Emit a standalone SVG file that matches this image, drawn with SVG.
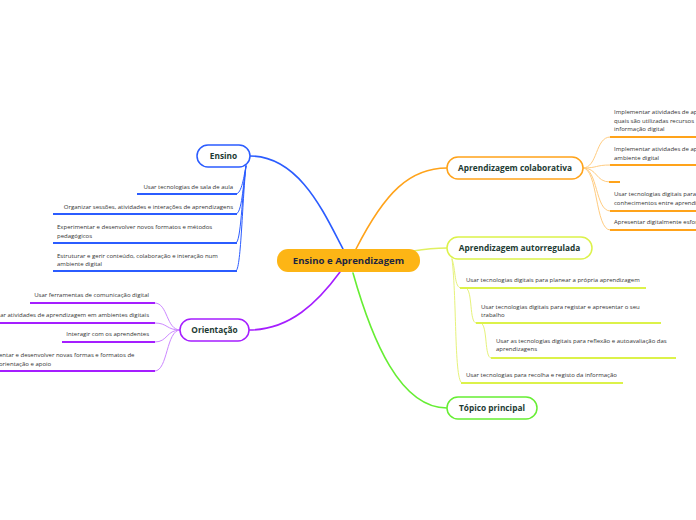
<svg xmlns="http://www.w3.org/2000/svg" width="696" height="520" viewBox="0 0 696 520">
<style>
.bg{fill:#ffffff}
.node{fill:#ffffff;stroke-width:1.5}
.nt{font-family:"Open Sans","Noto Sans",sans-serif;font-weight:bold;font-size:8.3px;fill:#1d3b33;text-anchor:middle}
.ct{font-family:"Open Sans","Noto Sans",sans-serif;font-size:6px;fill:#333333}
.end{text-anchor:end}
.c{fill:none;stroke-linecap:round}
.ul{fill:none;stroke-width:2}
</style>
<rect class="bg" x="0" y="0" width="696" height="520"/>
<g id="connectors">
  <path class="c" d="M250,156 C300,156 325,215 343,249" stroke="#2b5cff" stroke-width="1.6"/>
  <path class="c" d="M249,330 C290,330 318,302 340,272" stroke="#a51eff" stroke-width="1.6"/>
  <path class="c" d="M356,249 C385,192 410,168 447,168" stroke="#ffa31a" stroke-width="1.6"/>
  <path class="c" d="M413,251 C425,249 435,248 447,248" stroke="#e0f060" stroke-width="1.6"/>
  <path class="c" d="M353,273 C372,340 400,408 447,408" stroke="#66ee33" stroke-width="1.6"/>
  <g stroke="#2b5cff" stroke-width="1">
    <path class="c" d="M246,166 C244,175 242,194 236,194"/>
    <path class="c" d="M246,166 C243,185 242,214 236,214"/>
    <path class="c" d="M246,166 C242,195 241,243 236,243"/>
    <path class="c" d="M246,166 C242,205 241,271 236,271"/>
  </g>
  <g stroke="#cc88ff" stroke-width="1">
    <path class="c" d="M180,330 C166,330 168,303 155,303"/>
    <path class="c" d="M180,330 C166,330 168,323 155,323"/>
    <path class="c" d="M180,330 C166,330 168,342 155,342"/>
    <path class="c" d="M180,330 C166,330 168,371 155,371"/>
  </g>
  <g stroke="#ffcc80" stroke-width="1">
    <path class="c" d="M583,168 C598,168 595,137 610,137"/>
    <path class="c" d="M583,168 C598,168 595,165 610,165"/>
    <path class="c" d="M583,168 C598,168 595,182 610,182"/>
    <path class="c" d="M583,168 C598,168 595,211 610,211"/>
    <path class="c" d="M583,168 C598,168 595,230 610,230"/>
  </g>
  <g stroke="#e6f27a" stroke-width="1">
    <path class="c" d="M452,259 C456,270 454,288 461,288"/>
    <path class="c" d="M452,259 C457,300 454,383 462,383"/>
    <path class="c" d="M466,288 C473,290 469,323 476,323"/>
    <path class="c" d="M481,323 C488,325 484,358 491,358"/>
  </g>
</g>
<g id="center">
  <rect x="277" y="249" width="143" height="23" rx="11" fill="#fdb515"/>
  <text x="348.5" y="264" font-family="'Open Sans','Noto Sans',sans-serif" font-weight="bold" font-size="9.6" fill="#1c2541" text-anchor="middle">Ensino e Aprendizagem</text>
</g>
<g id="ensino">
  <rect class="node" x="197" y="145" width="53" height="22" rx="11" stroke="#2b5cff"/>
  <text class="nt" x="223.5" y="159">Ensino</text>
</g>
<g id="ensino-1">
  <text class="ct end" x="233" y="189">Usar tecnologias de sala de aula</text>
  <path class="ul" d="M137,194 H237" stroke="#2b5cff"/>
</g>
<g id="ensino-2">
  <text class="ct end" x="233" y="209">Organizar sessões, atividades e interações de aprendizagens</text>
  <path class="ul" d="M53,214 H237" stroke="#2b5cff"/>
</g>
<g id="ensino-3">
  <text class="ct" x="57" y="229">Experimentar e desenvolver novos formatos e métodos</text>
  <text class="ct" x="57" y="238">pedagógicos</text>
  <path class="ul" d="M53,243 H237" stroke="#2b5cff"/>
</g>
<g id="ensino-4">
  <text class="ct" x="57" y="258">Estruturar e gerir conteúdo, colaboração e interação num</text>
  <text class="ct" x="57" y="266">ambiente digital</text>
  <path class="ul" d="M53,271 H237" stroke="#2b5cff"/>
</g>
<g id="orientacao">
  <rect class="node" x="180" y="319" width="69" height="22" rx="11" stroke="#a51eff"/>
  <text class="nt" x="214.5" y="333">Orientação</text>
</g>
<g id="orientacao-1">
  <text class="ct end" x="149" y="297">Usar ferramentas de comunicação digital</text>
  <path class="ul" d="M30,303 H155" stroke="#a51eff"/>
</g>
<g id="orientacao-2">
  <text class="ct end" x="149" y="317">ar atividades de aprendizagem em ambientes digitais</text>
  <path class="ul" d="M0,323 H155" stroke="#a51eff"/>
</g>
<g id="orientacao-3">
  <text class="ct end" x="149" y="336">Interagir com os aprendentes</text>
  <path class="ul" d="M62,342 H155" stroke="#a51eff"/>
</g>
<g id="orientacao-4">
  <text class="ct" x="-1" y="357">entar e desenvolver novas formas e formatos de</text>
  <text class="ct" x="-1" y="366">orientação e apoio</text>
  <path class="ul" d="M0,371 H155" stroke="#a51eff"/>
</g>
<g id="colaborativa">
  <rect class="node" x="447" y="157" width="136" height="22" rx="11" stroke="#ffa31a"/>
  <text class="nt" x="515" y="171">Aprendizagem colaborativa</text>
</g>
<g id="colaborativa-1">
  <text class="ct" x="614" y="114">Implementar atividades de ap</text>
  <text class="ct" x="614" y="123">quais são utilizadas recursos</text>
  <text class="ct" x="614" y="131">informação digital</text>
  <path class="ul" d="M610,137 H696" stroke="#ffa31a"/>
</g>
<g id="colaborativa-2">
  <text class="ct" x="614" y="151">Implementar atividades de ap</text>
  <text class="ct" x="614" y="160">ambiente digital</text>
  <path class="ul" d="M610,165 H696" stroke="#ffa31a"/>
</g>
<g id="colaborativa-3">
  <path class="ul" d="M609,182 H620" stroke="#ffa31a"/>
</g>
<g id="colaborativa-4">
  <text class="ct" x="614" y="196">Usar tecnologias digitais para</text>
  <text class="ct" x="614" y="205">conhecimentos entre aprendi</text>
  <path class="ul" d="M610,211 H696" stroke="#ffa31a"/>
</g>
<g id="colaborativa-5">
  <text class="ct" x="614" y="224">Apresentar digitalmente esfor</text>
  <path class="ul" d="M610,230 H696" stroke="#ffa31a"/>
</g>
<g id="autorregulada">
  <rect class="node" x="447" y="237" width="145" height="22" rx="11" stroke="#dcf24a"/>
  <text class="nt" x="519.5" y="251">Aprendizagem autorregulada</text>
</g>
<g id="autorregulada-1">
  <text class="ct" x="466" y="282">Usar tecnologias digitais para planear a própria aprendizagem</text>
  <path class="ul" d="M460,288 H646" stroke="#dcf24a"/>
</g>
<g id="autorregulada-2">
  <text class="ct" x="481" y="309">Usar tecnologias digitais para registar e apresentar o seu</text>
  <text class="ct" x="481" y="317">trabalho</text>
  <path class="ul" d="M476,323 H661" stroke="#dcf24a"/>
</g>
<g id="autorregulada-3">
  <text class="ct" x="496" y="343">Usar as tecnologias digitais para reflexão e autoavaliação das</text>
  <text class="ct" x="496" y="351">aprendizagens</text>
  <path class="ul" d="M491,358 H676" stroke="#dcf24a"/>
</g>
<g id="autorregulada-4">
  <text class="ct" x="466" y="377">Usar tecnologias para recolha e registo da informação</text>
  <path class="ul" d="M461,383 H623" stroke="#dcf24a"/>
</g>
<g id="topico">
  <rect class="node" x="447" y="397" width="90" height="22" rx="11" stroke="#66ee33"/>
  <text class="nt" x="492" y="411">Tópico principal</text>
</g>
</svg>
